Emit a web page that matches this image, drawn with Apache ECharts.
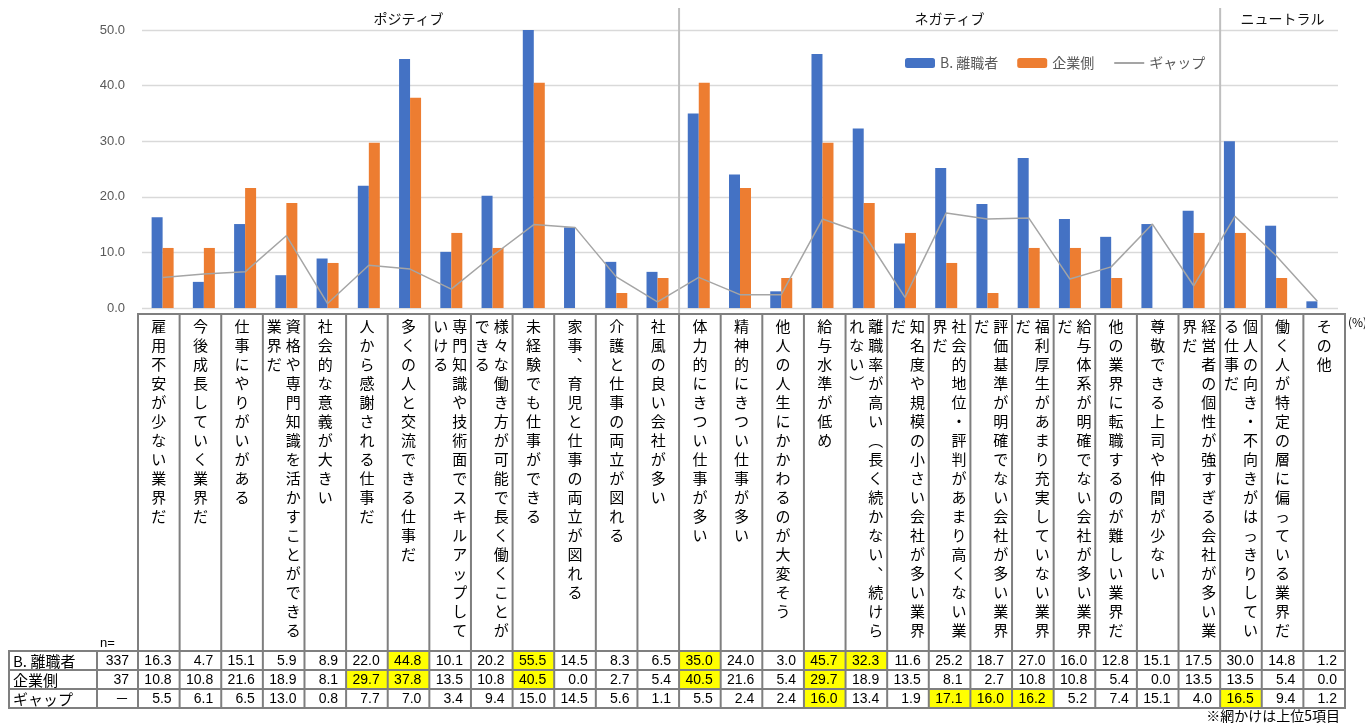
<!DOCTYPE html>
<html>
<head>
<meta charset="utf-8">
<script src="https://cdn.jsdelivr.net/npm/echarts@6/dist/echarts.min.js"></script>
<style>
  html, body { margin: 0; padding: 0; background: #fff; }
  #chart { width: 1365px; height: 723px; }
</style>
</head>
<body>
<div id="chart"></div>
<script>
// Reasons / images of the industry, three groups of items
const categories = [
  '雇用不安が少ない業界だ', '今後成長していく業界だ', '仕事にやりがいがある',
  '資格や専門知識を活かすことができる業界だ', '社会的な意義が大きい', '人から感謝される仕事だ',
  '多くの人と交流できる仕事だ', '専門知識や技術面でスキルアップしていける',
  '様々な働き方が可能で長く働くことができる', '未経験でも仕事ができる',
  '家事、育児と仕事の両立が図れる', '介護と仕事の両立が図れる', '社風の良い会社が多い',
  '体力的にきつい仕事が多い', '精神的にきつい仕事が多い', '他人の人生にかかわるのが大変そう',
  '給与水準が低め', '離職率が高い（長く続かない、続けられない）',
  '知名度や規模の小さい会社が多い業界だ', '社会的地位・評判があまり高くない業界だ',
  '評価基準が明確でない会社が多い業界だ', '福利厚生があまり充実していない業界だ',
  '給与体系が明確でない会社が多い業界だ', '他の業界に転職するのが難しい業界だ',
  '尊敬できる上司や仲間が少ない', '経営者の個性が強すぎる会社が多い業界だ',
  '個人の向き・不向きがはっきりしている仕事だ', '働く人が特定の層に偏っている業界だ', 'その他'
];
const leaverValues = [16.3, 4.7, 15.1, 5.9, 8.9, 22.0, 44.8, 10.1, 20.2, 55.5, 14.5, 8.3, 6.5,
  35.0, 24.0, 3.0, 45.7, 32.3, 11.6, 25.2, 18.7, 27.0, 16.0, 12.8, 15.1, 17.5,
  30.0, 14.8, 1.2];
const companyValues = [10.8, 10.8, 21.6, 18.9, 8.1, 29.7, 37.8, 13.5, 10.8, 40.5, 0.0, 2.7, 5.4,
  40.5, 21.6, 5.4, 29.7, 18.9, 13.5, 8.1, 2.7, 10.8, 10.8, 5.4, 0.0, 13.5,
  13.5, 5.4, 0.0];
const gapValues = [5.5, 6.1, 6.5, 13.0, 0.8, 7.7, 7.0, 3.4, 9.4, 15.0, 14.5, 5.6, 1.1,
  5.5, 2.4, 2.4, 16.0, 13.4, 1.9, 17.1, 16.0, 16.2, 5.2, 7.4, 15.1, 4.0,
  16.5, 9.4, 1.2];
const seriesNames = ['B. 離職者', '企業側', 'ギャップ'];
const sampleSizes = ['337', '37', '－'];
const sections = ['ポジティブ', 'ネガティブ', 'ニュートラル'];
const sectionSizes = [13, 13, 3];
const yTicks = [0, 10, 20, 30, 40, 50];
const unitLabel = '(%)';
const sampleLabel = 'n=';
const footnote = '※網かけは上位5項目';

// ---- layout ----
const FONT_JP = '"Noto Sans CJK JP", "Noto Sans", sans-serif';
const FONT_NUM = '"Liberation Sans", "Noto Sans CJK JP", sans-serif';
const TABLE_LEFT = 138, TABLE_RIGHT = 1345;
const COL_W = (TABLE_RIGHT - TABLE_LEFT) / categories.length;
const NAME_LEFT = 9, N_LEFT = 97;
const HEAD_TOP = 314;
const ROW_TOPS = [651, 670, 689, 708];
const BORDER = '#7f7f7f';
const CHARS_PER_COL = 17;
const CHAR_STEP = 19;

const colX = i => TABLE_LEFT + i * COL_W;

// vertical presentation forms for punctuation
const VERT = { '、': '︑', '（': '︵', '）': '︶', '。': '︒' };
function verticalColumns(label) {
  const chars = Array.from(label).map(c => VERT[c] || c);
  const cols = [];
  for (let i = 0; i < chars.length; i += CHARS_PER_COL) cols.push(chars.slice(i, i + CHARS_PER_COL).join('\n'));
  return cols;
}

// cells shaded for the five largest values of a row
function topFive(values) {
  const sorted = values.slice().sort((a, b) => b - a);
  const th = sorted[4];
  return values.map(v => v >= th);
}

const graphics = [];
function line(x1, y1, x2, y2, stroke, w) {
  graphics.push({ type: 'line', silent: true, z: 10,
    shape: { x1, y1, x2, y2 }, style: { stroke, lineWidth: w } });
}
function text(x, y, str, opts) {
  graphics.push({ type: 'text', silent: true, z: 20, x, y,
    style: Object.assign({ text: str, fill: '#000', font: '14px ' + FONT_JP,
      textAlign: 'left', textVerticalAlign: 'middle', align: 'left', verticalAlign: 'middle' }, opts || {}) });
}
function setAlign(h, v) { return { textAlign: h, align: h, textVerticalAlign: v, verticalAlign: v }; }

// section headers and dividers
let start = 0;
sections.forEach((name, s) => {
  const end = start + sectionSizes[s];
  text((colX(start) + colX(end)) / 2, 19, name, Object.assign({ font: '14px ' + FONT_JP, fill: '#111' }, setAlign('center', 'middle')));
  if (s > 0) line(colX(start), 8, colX(start), HEAD_TOP, '#bfbfbf', 2);
  start = end;
});

// highlighted cells
const rowsData = [leaverValues, companyValues, gapValues];
rowsData.forEach((vals, r) => {
  const hl = topFive(vals);
  hl.forEach((h, i) => {
    if (h) graphics.push({ type: 'rect', silent: true, z: 5,
      shape: { x: colX(i), y: ROW_TOPS[r], width: COL_W, height: ROW_TOPS[r + 1] - ROW_TOPS[r] },
      style: { fill: '#ffff00' } });
  });
});

// table grid
for (let i = 0; i <= categories.length; i++) line(colX(i), HEAD_TOP, colX(i), ROW_TOPS[3], BORDER, 2);
line(NAME_LEFT, ROW_TOPS[0], NAME_LEFT, ROW_TOPS[3], BORDER, 2);
line(N_LEFT, ROW_TOPS[0], N_LEFT, ROW_TOPS[3], BORDER, 2);
line(TABLE_LEFT - 1, HEAD_TOP, TABLE_RIGHT + 1, HEAD_TOP, BORDER, 2);
ROW_TOPS.forEach(y => line(NAME_LEFT - 1, y, TABLE_RIGHT + 1, y, BORDER, 2));

// category headers (vertical writing)
categories.forEach((label, i) => {
  const cols = verticalColumns(label);
  const cx = colX(i) + COL_W / 2;
  cols.forEach((colText, j) => {
    const x = cx + ((cols.length - 1) / 2 - j) * CHAR_STEP;
    text(x, HEAD_TOP + 3, colText, Object.assign({ font: '15px ' + FONT_JP, lineHeight: CHAR_STEP }, setAlign('center', 'top')));
  });
});

// data rows
rowsData.forEach((vals, r) => {
  const cy = (ROW_TOPS[r] + ROW_TOPS[r + 1]) / 2 + 0.5;
  text(NAME_LEFT + 4, cy, seriesNames[r], Object.assign({ font: '15px ' + FONT_JP }, setAlign('left', 'middle')));
  text(TABLE_LEFT - 9, cy, sampleSizes[r], Object.assign({ font: '14px ' + FONT_NUM }, setAlign('right', 'middle')));
  vals.forEach((v, i) => {
    text(colX(i + 1) - 8, cy, v.toFixed(1), Object.assign({ font: '14px ' + FONT_NUM }, setAlign('right', 'middle')));
  });
});

text(N_LEFT + 3, 643, sampleLabel, Object.assign({ font: '13px ' + FONT_NUM }, setAlign('left', 'middle')));
text(TABLE_RIGHT + 3, 322, unitLabel, Object.assign({ font: '12px ' + FONT_JP }, setAlign('left', 'middle')));
text(1340, 716, footnote, Object.assign({ font: '14px ' + FONT_JP }, setAlign('right', 'middle')));

const chart = echarts.init(document.getElementById('chart'), null, { renderer: 'canvas' });
chart.setOption({
  animation: false,
  backgroundColor: '#fff',
  textStyle: { fontFamily: FONT_JP },
  grid: { left: 142, right: 27, top: 30, bottom: 415, containLabel: false },
  legend: {
    left: 905, top: 56, padding: 0, itemWidth: 30, itemHeight: 10, itemGap: 19,
    textStyle: { fontSize: 14, color: '#595959', fontFamily: FONT_JP },
    data: [
      { name: seriesNames[0] },
      { name: seriesNames[1] },
      { name: seriesNames[2], itemStyle: { opacity: 0 } }
    ]
  },
  xAxis: {
    type: 'category', data: categories, boundaryGap: true,
    axisLine: { show: false }, axisTick: { show: false }, axisLabel: { show: false }
  },
  yAxis: {
    type: 'value', min: yTicks[0], max: yTicks[yTicks.length - 1], interval: yTicks[1] - yTicks[0],
    axisLine: { show: false }, axisTick: { show: false },
    axisLabel: { formatter: v => v.toFixed(1), color: '#595959', fontSize: 13, margin: 17, fontFamily: FONT_NUM },
    splitLine: { lineStyle: { color: '#d9d9d9', width: 1.3 } }
  },
  series: [
    { name: seriesNames[0], type: 'bar', data: leaverValues, barWidth: 11, barGap: '0%',
      itemStyle: { color: '#4472c4' }, clip: true },
    { name: seriesNames[1], type: 'bar', data: companyValues, barWidth: 11,
      itemStyle: { color: '#ed7d31' }, clip: true },
    { name: seriesNames[2], type: 'line', data: gapValues, symbol: 'none',
      lineStyle: { color: '#a5a5a5', width: 1.5 }, itemStyle: { color: '#a5a5a5' }, z: 3 }
  ],
  graphic: graphics
});
</script>
</body>
</html>
